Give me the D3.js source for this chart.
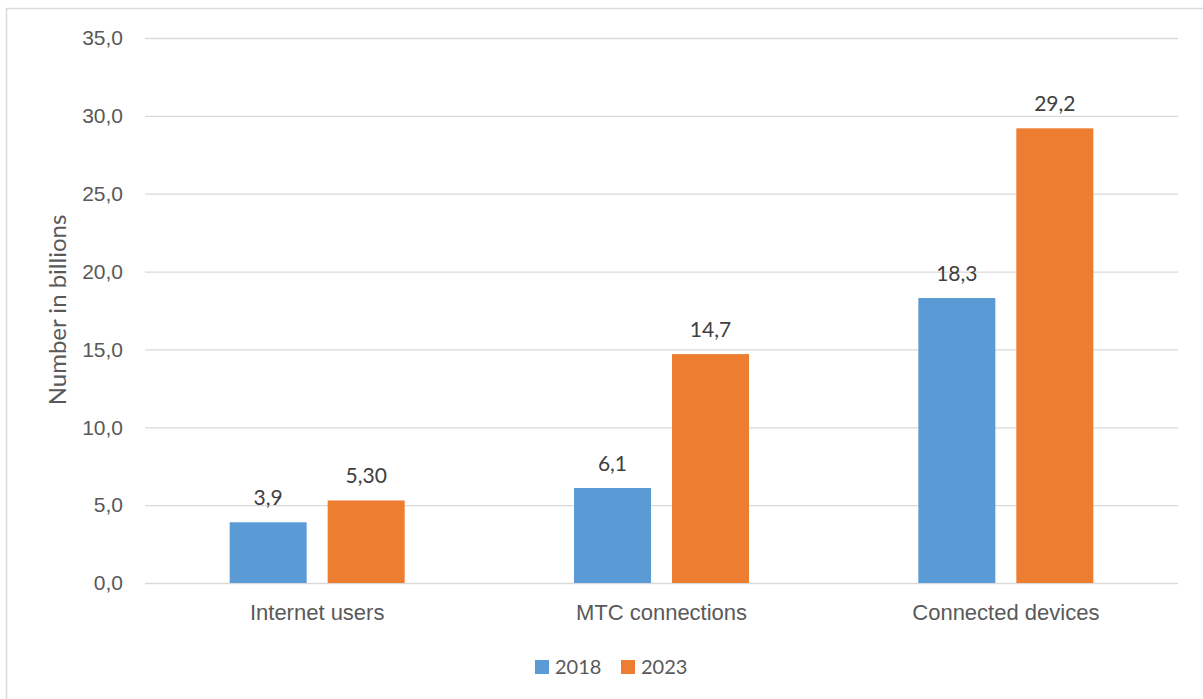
<!DOCTYPE html>
<html><head><meta charset="utf-8">
<script src="https://cdn.jsdelivr.net/npm/d3@7"></script>
<style>body{margin:0;background:#fff;} svg{display:block;font-family:Lato,"Open Sans",sans-serif;}</style>
</head><body>
<svg id="c" width="1203" height="699"></svg>
<script>
const categories = ["Internet users", "MTC connections", "Connected devices"];
const seriesNames = ["2018", "2023"];
const values2018 = [3.9, 6.1, 18.3];
const values2023 = [5.3, 14.7, 29.2];
const labels2018 = ["3,9", "6,1", "18,3"];
const labels2023 = ["5,30", "14,7", "29,2"];
const yTicks = [0, 5, 10, 15, 20, 25, 30, 35];
const colors = ["#5B9BD5", "#ED7D31"];

(function () {
const svg = d3.select("#c");
svg.append("rect").attr("x", 6.5).attr("y", 8.5).attr("width", 1210).attr("height", 700)
  .attr("fill", "#fff").attr("stroke", "#d9d9d9").attr("stroke-width", 1.5);

const mLeft = 145, mRight = 1178, mTop = 38, mBottom = 583;
const x = d3.scaleBand().domain(categories).range([mLeft, mRight]);
const y = d3.scaleLinear().domain([0, 35]).range([mBottom, mTop]);
const fmt = d => d3.format(".1f")(d).replace(".", ",");

const yAxis = svg.append("g").attr("transform", `translate(${mLeft},0)`)
  .call(d3.axisLeft(y).tickValues(yTicks).tickSize(-(mRight - mLeft)).tickFormat(fmt).tickPadding(22));
yAxis.select(".domain").remove();
yAxis.selectAll(".tick line").attr("stroke", "#d9d9d9").attr("stroke-width", 1.3);
yAxis.selectAll(".tick text").attr("fill", "#595959").attr("font-size", 21);

const xAxis = svg.append("g").attr("transform", `translate(0,${mBottom})`)
  .call(d3.axisBottom(x).tickSize(0).tickPadding(21));
xAxis.select(".domain").remove();
xAxis.selectAll(".tick text").attr("fill", "#595959").attr("font-size", 22);

const bw = 77, gap = 21;
const series = [values2018, values2023];
const labs = [labels2018, labels2023];
series.forEach((vals, si) => {
  const g = svg.append("g");
  categories.forEach((c, i) => {
    const cx = x(c) + x.bandwidth() / 2;
    const bx = si === 0 ? cx - gap / 2 - bw : cx + gap / 2;
    g.append("rect").attr("x", bx).attr("y", y(vals[i])).attr("width", bw)
      .attr("height", y(0) - y(vals[i])).attr("fill", colors[si]);
    g.append("text").attr("x", bx + bw / 2).attr("y", y(vals[i]) - 17)
      .attr("text-anchor", "middle").attr("fill", "#404040").attr("font-size", 21).text(labs[si][i]);
  });
});

svg.append("text").attr("transform", "translate(66,310) rotate(-90)").attr("text-anchor", "middle")
  .attr("fill", "#595959").attr("font-size", 24).text("Number in billions");

const legend = svg.append("g");
const lx = [535, 621];
seriesNames.forEach((s, i) => {
  legend.append("rect").attr("x", lx[i]).attr("y", 660).attr("width", 14).attr("height", 14).attr("fill", colors[i]);
  legend.append("text").attr("x", lx[i] + 20).attr("y", 674).attr("fill", "#595959").attr("font-size", 20).text(s);
});
})();
</script>
</body></html>
